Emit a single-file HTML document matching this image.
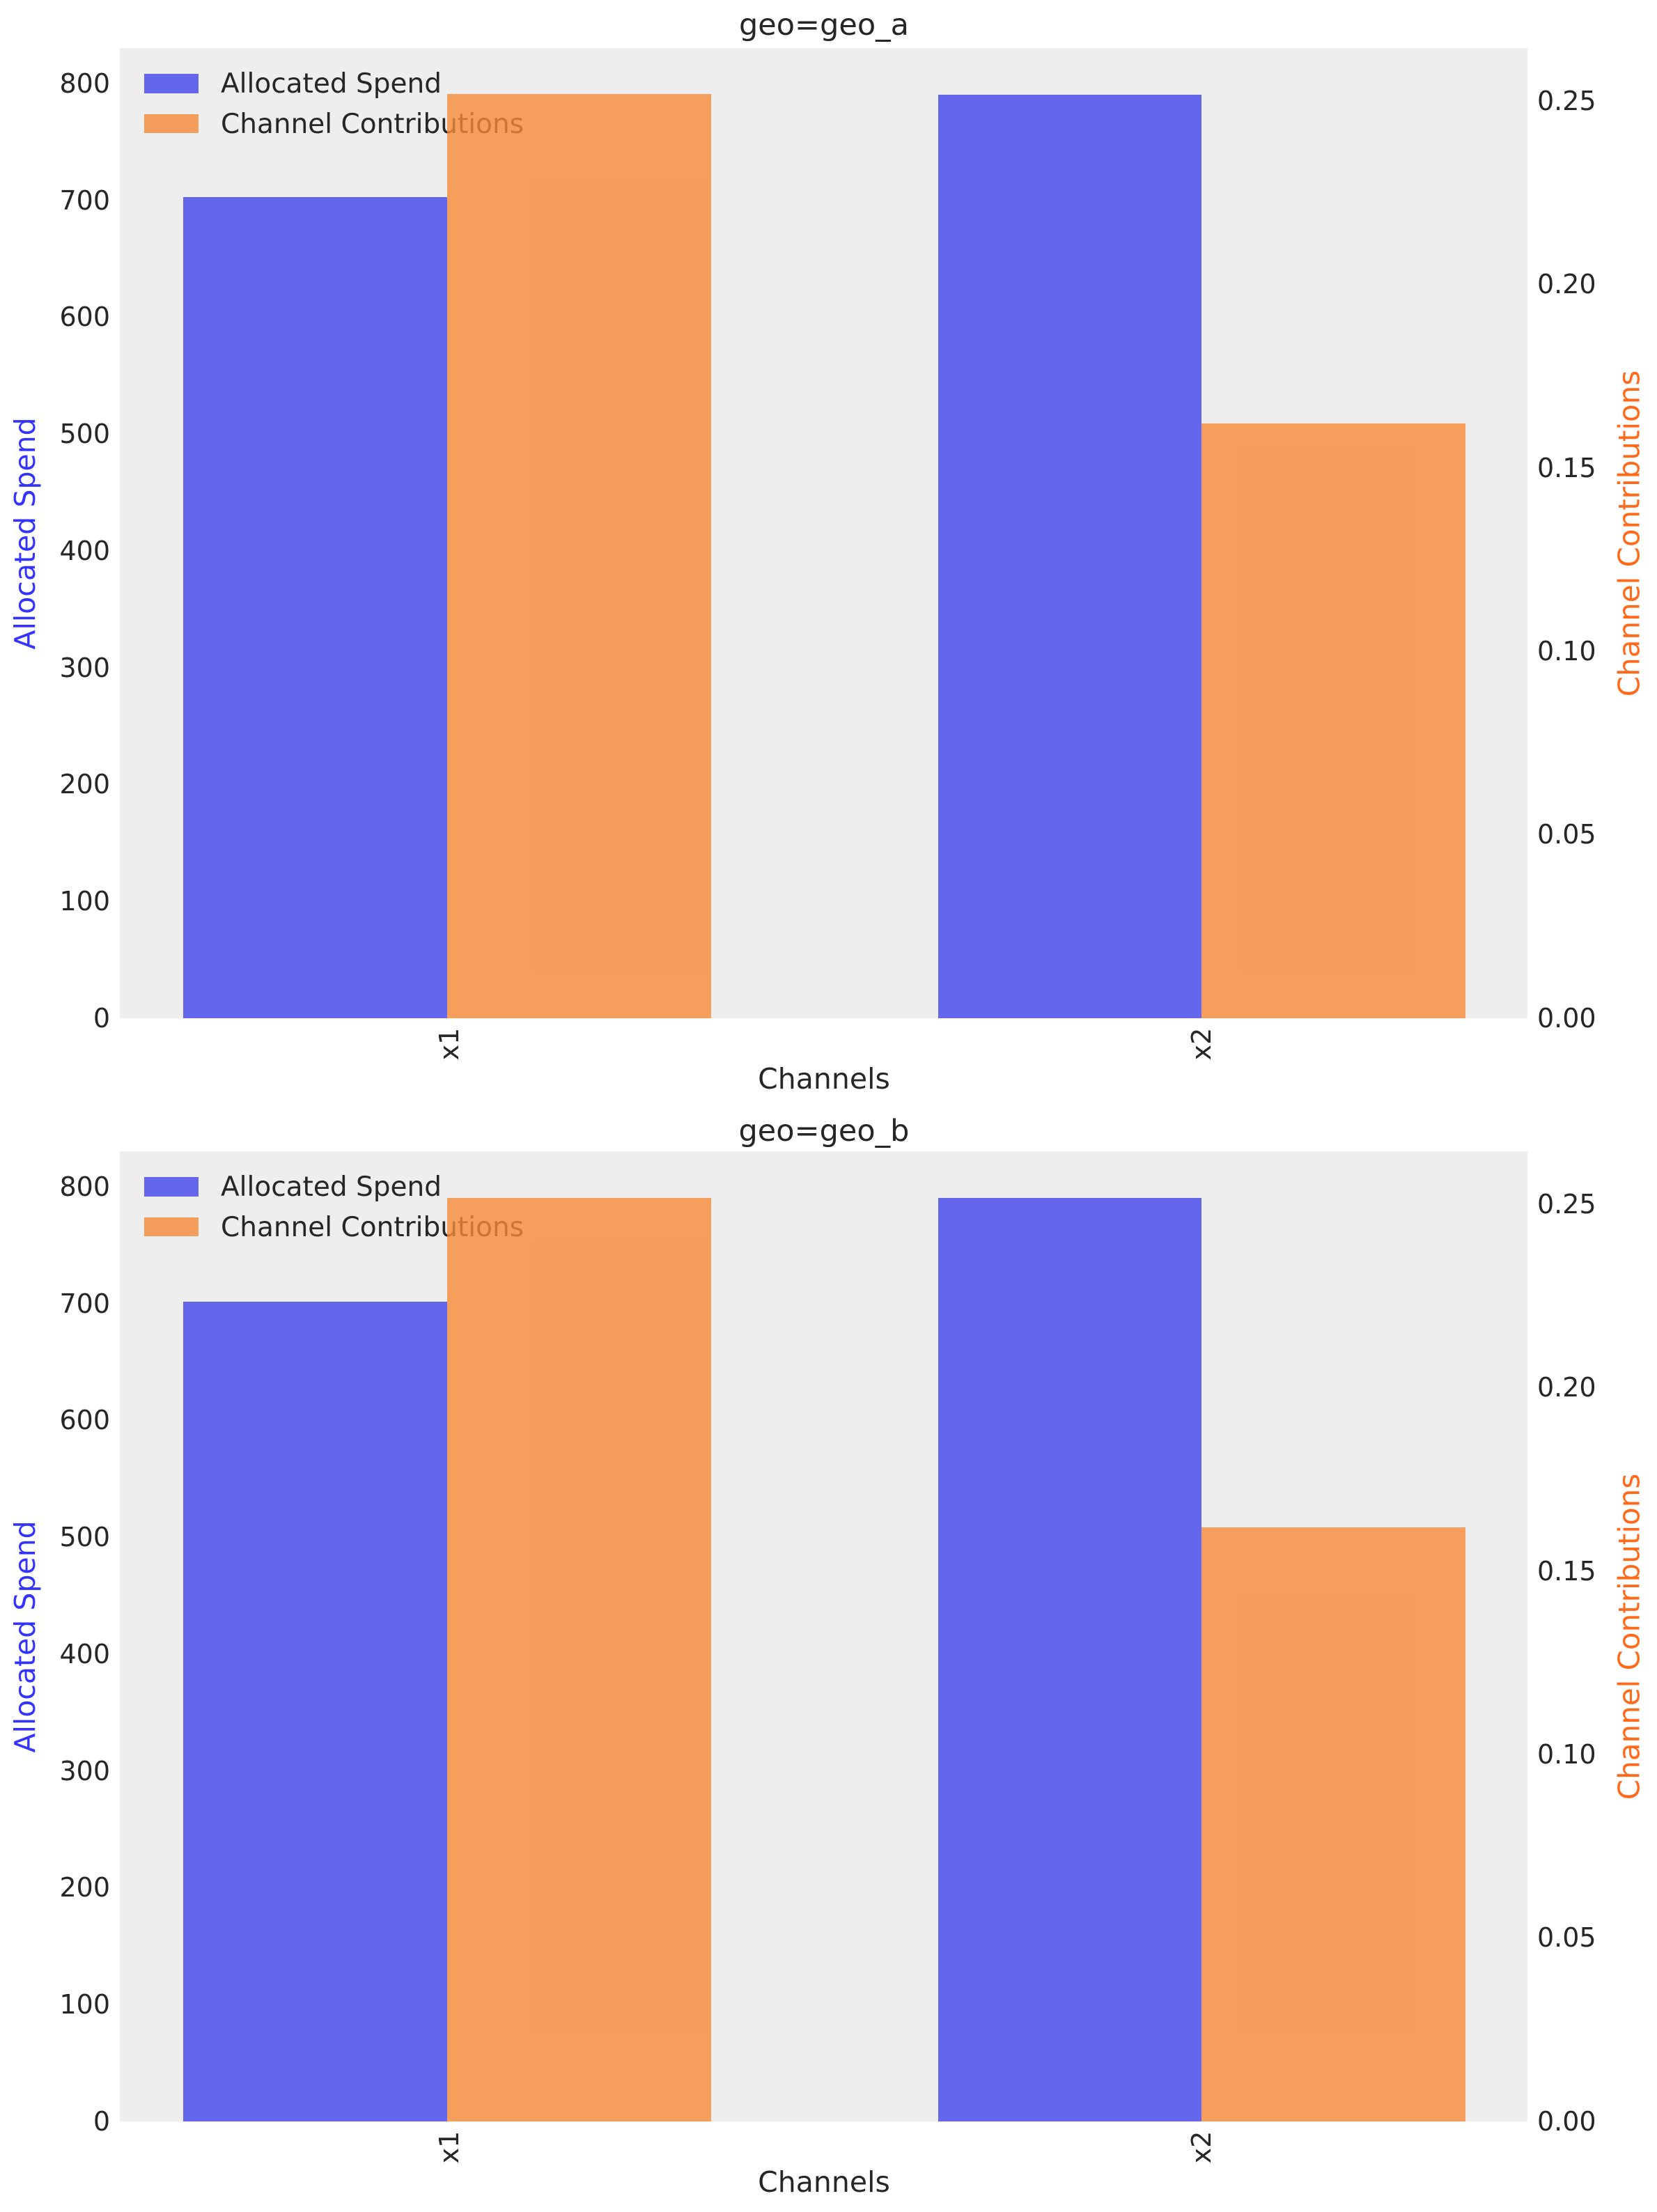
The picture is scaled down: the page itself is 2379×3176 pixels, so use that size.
<!DOCTYPE html>
<html><head><meta charset="utf-8"><style>body{margin:0;background:#fff}svg{display:block}</style></head>
<body>
<svg width="2379" height="3176" viewBox="0 0 2379 3176" xmlns="http://www.w3.org/2000/svg" font-family="DejaVu Sans, Liberation Sans, sans-serif" font-size="38" fill="#262626">
<defs>
<g id="ax">
<rect x="172" y="69" width="2021" height="1393" fill="#eeeeee"/>
<g text-anchor="end">
<text x="158" y="1475">0</text>
<text x="158" y="1307">100</text>
<text x="158" y="1139">200</text>
<text x="158" y="972">300</text>
<text x="158" y="804">400</text>
<text x="158" y="636">500</text>
<text x="158" y="468">600</text>
<text x="158" y="301">700</text>
<text x="158" y="133">800</text>
</g>
<g text-anchor="start">
<text x="2207" y="1475">0.00</text>
<text x="2207" y="1211">0.05</text>
<text x="2207" y="948">0.10</text>
<text x="2207" y="685">0.15</text>
<text x="2207" y="421">0.20</text>
<text x="2207" y="158">0.25</text>
</g>
<text transform="translate(645,1499) rotate(-90)" text-anchor="middle" dominant-baseline="central">x1</text>
<text transform="translate(1725,1499) rotate(-90)" text-anchor="middle" dominant-baseline="central">x2</text>
<text x="1183" y="1563" text-anchor="middle" font-size="41">Channels</text>
<text transform="translate(36,766) rotate(-90)" text-anchor="middle" dominant-baseline="central" fill="#3333ff" font-size="41">Allocated Spend</text>
<text transform="translate(2339,766) rotate(-90)" text-anchor="middle" dominant-baseline="central" fill="#ff6a1a" font-size="42">Channel Contributions</text>
<rect x="207" y="106" width="78" height="28" fill="#6466eb"/>
<rect x="207" y="164" width="78" height="27" fill="#f59e5b"/>
<text x="317" y="133" font-size="39">Allocated Spend</text>
<text x="317" y="191" font-size="39">Channel Contributions</text>
</g>
</defs>
<text x="1183" y="50" text-anchor="middle" font-size="43">geo=geo_a</text>
<use href="#ax"/>
<rect x="263" y="283" width="379" height="1179" fill="#6466eb"/>
<rect x="1347" y="136" width="378" height="1326" fill="#6466eb"/>
<rect x="642" y="135" width="379" height="1327" fill="#f78a36" fill-opacity="0.8"/>
<rect x="1725" y="608" width="379" height="854" fill="#f78a36" fill-opacity="0.8"/>

<text x="1183" y="1638" text-anchor="middle" font-size="43">geo=geo_b</text>
<use href="#ax" transform="translate(0,1584)"/>
<rect x="263" y="1869" width="379" height="1177" fill="#6466eb"/>
<rect x="1347" y="1720" width="378" height="1326" fill="#6466eb"/>
<rect x="642" y="1720" width="379" height="1326" fill="#f78a36" fill-opacity="0.8"/>
<rect x="1725" y="2193" width="379" height="853" fill="#f78a36" fill-opacity="0.8"/>
</svg>
</body></html>
